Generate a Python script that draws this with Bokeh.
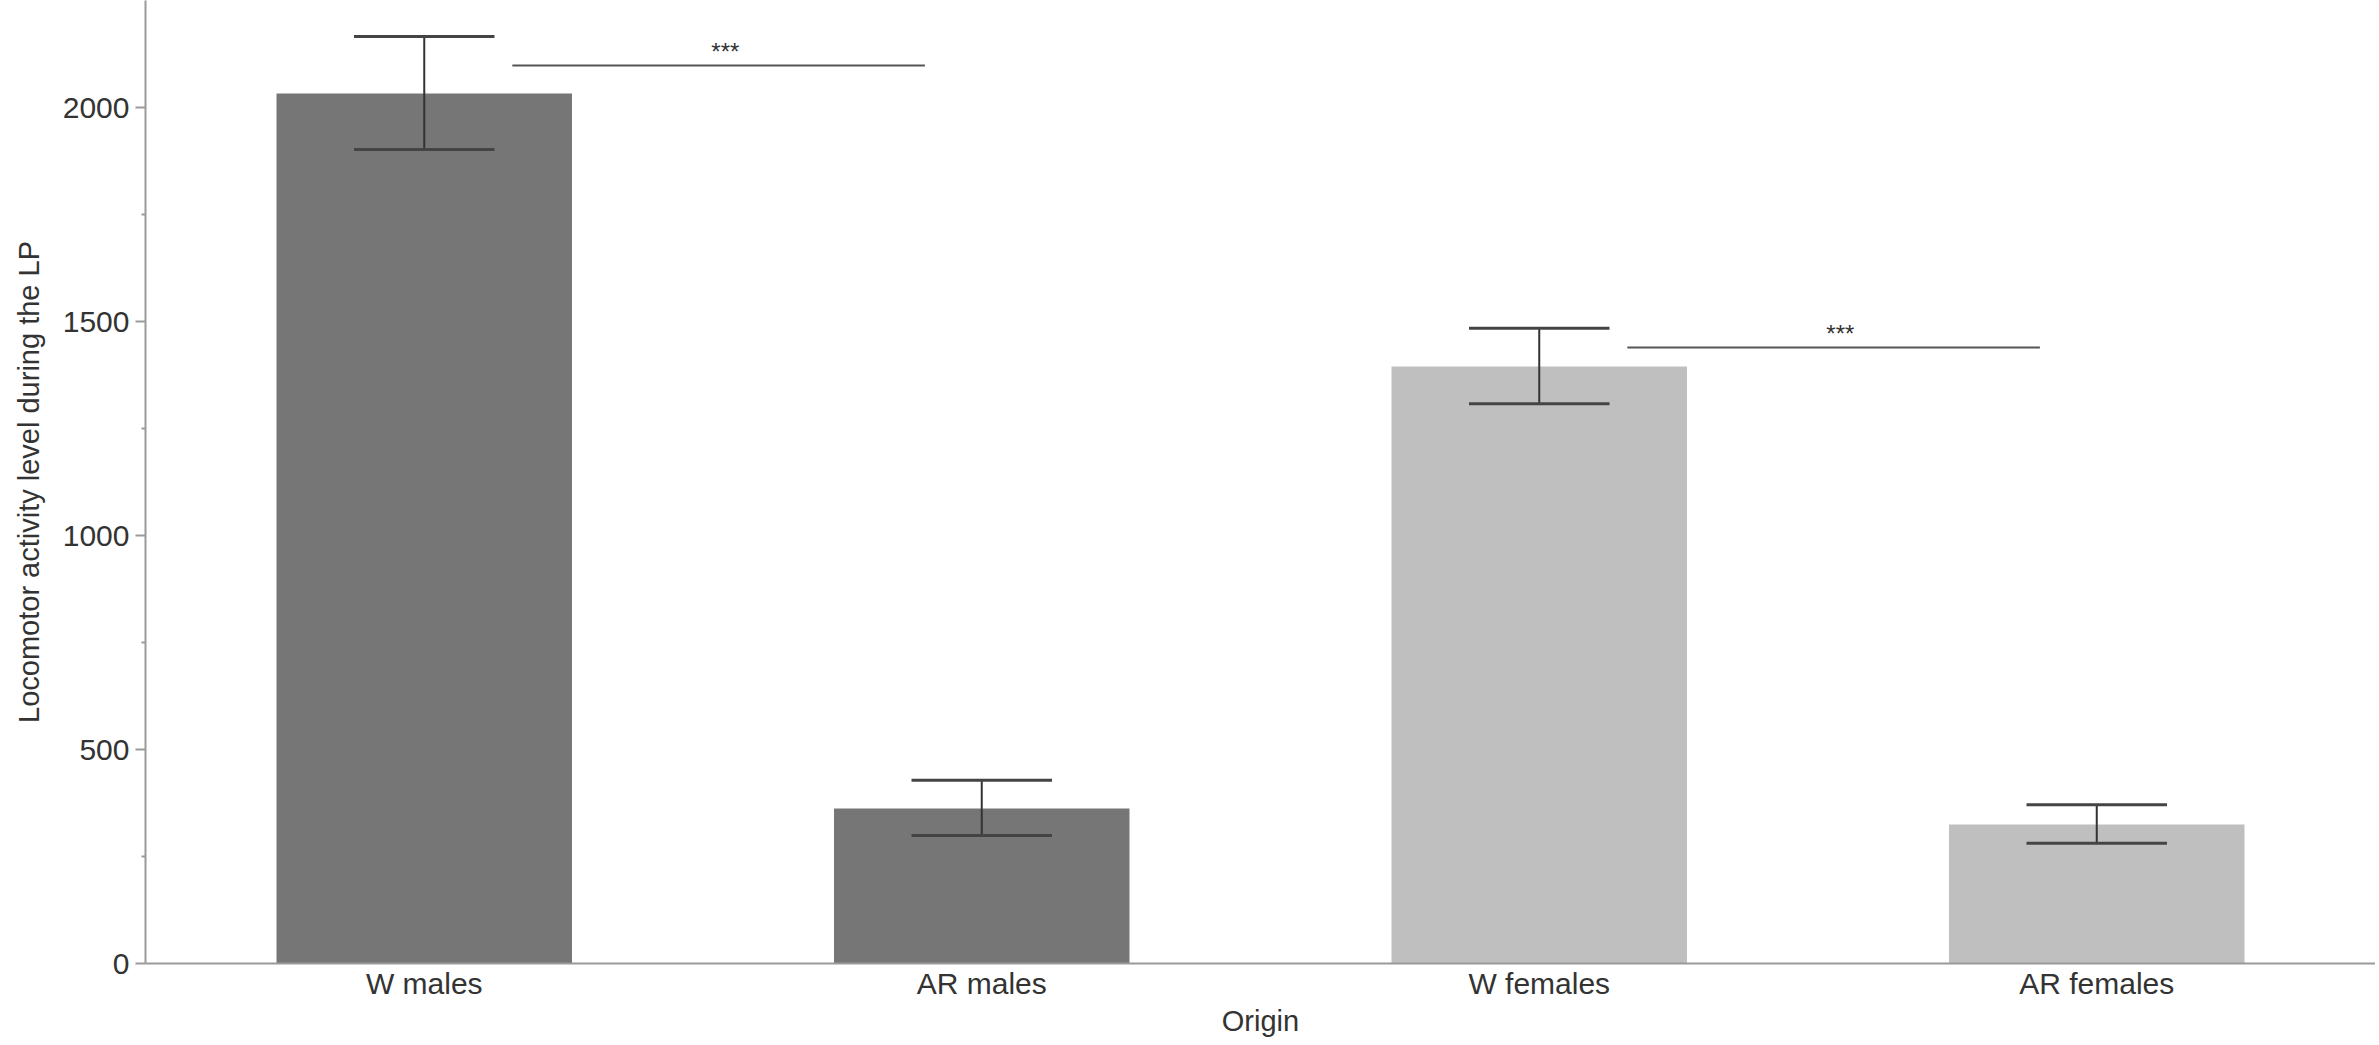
from bokeh.plotting import figure
from bokeh.models import ColumnDataSource, FactorRange, Range1d, FixedTicker
from bokeh.transform import dodge
from bokeh.core.properties import value
from bokeh.embed import file_html
from bokeh.resources import INLINE

# ---- data ----
categories = ["W males", "AR males", "W females", "AR females"]
means = [2033, 362, 1395, 325]
err_upper = [2166, 428, 1484, 371]
err_lower = [1902, 299, 1308, 281]
bar_colors = ["#767676", "#767676", "#bfbfbf", "#bfbfbf"]

sig_from = ["W males", "W females"]
sig_to = ["AR males", "AR females"]
sig_y = [2098, 1439]
sig_label = ["***", "***"]

y_ticks = [0, 500, 1000, 1500, 2000]
y_minor = [250, 750, 1250, 1750]

FONT = "Liberation Sans"
TXT = "#333333"
AXC = "#9a9a9a"

src = ColumnDataSource(dict(cat=categories, mean=means, upper=err_upper,
                            lower=err_lower, color=bar_colors))
sig = ColumnDataSource(dict(src=sig_from, dst=sig_to, y=sig_y, label=sig_label))

p = figure(width=2375, height=1041, output_backend="svg", toolbar_location=None,
           x_range=FactorRange(*categories, range_padding=0),
           y_range=Range1d(0, 2250),
           min_border_left=145, min_border_right=0, min_border_top=0,
           min_border_bottom=78)
p.outline_line_color = None
p.xgrid.grid_line_color = None
p.ygrid.grid_line_color = None
p.background_fill_color = "white"

p.vbar(x="cat", top="mean", bottom=0, width=0.53, source=src,
       fill_color="color", line_color=None)

# error bars
p.segment(x0="cat", x1="cat", y0="lower", y1="upper", source=src,
          line_color="#333333", line_width=2)
p.segment(x0=dodge("cat", -0.126, range=p.x_range), x1=dodge("cat", 0.126, range=p.x_range),
          y0="upper", y1="upper", source=src, line_color="#444444", line_width=3)
p.segment(x0=dodge("cat", -0.126, range=p.x_range), x1=dodge("cat", 0.126, range=p.x_range),
          y0="lower", y1="lower", source=src, line_color="#444444", line_width=3)

# significance brackets
p.segment(x0=dodge("src", 0.158, range=p.x_range), x1=dodge("dst", -0.102, range=p.x_range),
          y0="y", y1="y", source=sig, line_color="#555555", line_width=2)
p.text(x=dodge("dst", -0.46, range=p.x_range), y="y", text="label", source=sig,
       text_align="center", text_baseline="alphabetic", y_offset=-14,
       text_font=value(FONT), text_font_size="24px", text_color="#333333")

# axes
p.yaxis.ticker = FixedTicker(ticks=y_ticks, minor_ticks=y_minor)
p.yaxis.axis_label = "Locomotor activity level during the LP"
p.xaxis.axis_label = "Origin"
for ax in (p.xaxis[0], p.yaxis[0]):
    ax.axis_line_color = AXC
    ax.axis_line_width = 2
    ax.major_tick_line_color = AXC
    ax.major_tick_line_width = 2
    ax.minor_tick_line_color = AXC
    ax.minor_tick_line_width = 2
    ax.major_label_text_font = FONT
    ax.major_label_text_font_size = "30px"
    ax.major_label_text_color = TXT
    ax.axis_label_text_font = FONT
    ax.axis_label_text_font_size = "29px"
    ax.axis_label_text_font_style = "normal"
    ax.axis_label_text_color = TXT

p.yaxis.major_tick_out = 10
p.yaxis.major_tick_in = 0
p.yaxis.minor_tick_out = 4
p.yaxis.minor_tick_in = 0
p.yaxis.major_label_standoff = 6
p.yaxis.axis_label_standoff = 15

p.xaxis.major_tick_line_color = None
p.xaxis.major_tick_out = 0
p.xaxis.major_tick_in = 0
p.xaxis.major_label_standoff = 3
p.xaxis.axis_label_standoff = 2

open("out.html", "w").write(file_html(p, INLINE))
